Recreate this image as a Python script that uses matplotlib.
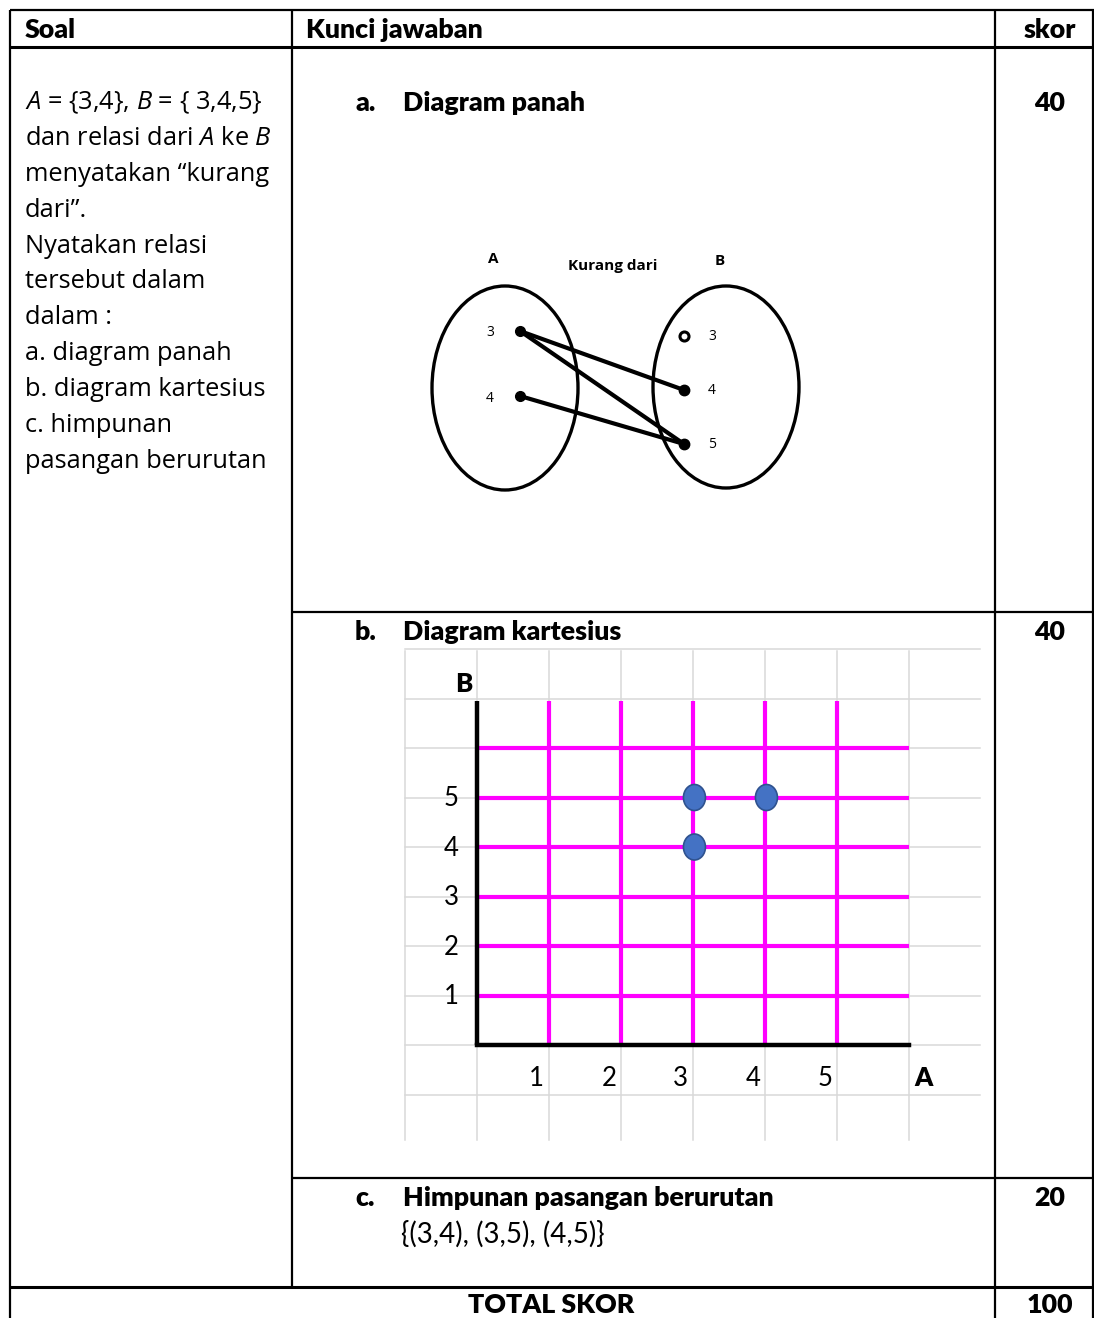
import matplotlib
matplotlib.use("Agg")
import matplotlib.pyplot as plt
from matplotlib.patches import Ellipse

# ---------------- data ----------------
set_A = [3, 4]
set_B = [3, 4, 5]
relation_pairs = [(3, 4), (3, 5), (4, 5)]          # "kurang dari"
x_ticks = [1, 2, 3, 4, 5]
y_ticks = [1, 2, 3, 4, 5]
scores = ["40", "40", "20"]
total_score = "100"
question_lines = ["$A$ = {3,4}, $B$ = { 3,4,5}",
                  "dan relasi dari $A$ ke $B$",
                  "menyatakan \u201ckurang",
                  "dari\u201d.",
                  "Nyatakan relasi",
                  "tersebut dalam",
                  "dalam :",
                  "a. diagram panah",
                  "b. diagram kartesius",
                  "c. himpunan",
                  "pasangan berurutan"]
answer_set_text = "{(3,4), (3,5), (4,5)}"

plt.rcParams['mathtext.fontset'] = 'custom'
plt.rcParams['mathtext.it'] = 'Open Sans:italic'
plt.rcParams['mathtext.rm'] = 'Open Sans'

W, H = 1094, 1318
fig = plt.figure(figsize=(W / 100, H / 100), dpi=100)
fig.patch.set_facecolor("white")

def px_axes(x0, y0, x1, y1, **kw):
    return fig.add_axes([x0 / W, 1 - y1 / H, (x1 - x0) / W, (y1 - y0) / H], **kw)

# ---------------- table ----------------
ax = px_axes(0, 0, W, H)
ax.set_xlim(0, W)
ax.set_ylim(H, 0)
ax.axis("off")

lc = "black"
lw = 1.6
def hl(y, x0, x1, w=lw):
    ax.plot([x0, x1], [y, y], color=lc, lw=w, solid_capstyle="butt")
def vl(x, y0, y1, w=lw):
    ax.plot([x, x], [y0, y1], color=lc, lw=w, solid_capstyle="butt")

hl(10, 10, 1094)
hl(47, 10, 1094, 2.2)
hl(612, 292, 1094)
hl(1178, 292, 1094)
hl(1287, 10, 1094, 2.2)
vl(10, 10, 1318)
vl(292, 10, 1287)
vl(995, 10, 1318)
vl(1093, 10, 1318)

HF = "Lato"
hb = dict(family=HF, fontweight="heavy", fontsize=19.3, va="center")
ax.text(25, 30, "Soal", ha="left", **hb)
ax.text(306, 30, "Kunci jawaban", ha="left", **hb)
ax.text(1050, 30, "skor", ha="center", **hb)

# left column
for i, line in enumerate(question_lines):
    ax.text(25, 103 + i * 35.8, line, family="Open Sans", fontsize=18.3,
            ha="left", va="center")

# answers
ax.text(355, 103, "a.", ha="left", **hb)
ax.text(403, 103, "Diagram panah", ha="left", **hb)
ax.text(355, 632, "b.", ha="left", **hb)
ax.text(403, 632, "Diagram kartesius", ha="left", **hb)
ax.text(355, 1198, "c.", ha="left", **hb)
ax.text(403, 1198, "Himpunan pasangan berurutan", ha="left", **hb)
ax.text(401, 1234, answer_set_text, family=HF, fontsize=20,
        ha="left", va="center")

for yy, s in zip([103, 632, 1198], scores):
    ax.text(1050, yy, s, ha="center", **hb)
ax.text(551, 1305, "TOTAL SKOR", ha="center", **hb)
ax.text(1050, 1305, total_score, ha="center", **hb)

# ---------------- arrow diagram ----------------
ad = px_axes(420, 240, 820, 500)
ad.set_xlim(420, 820)
ad.set_ylim(500, 240)
ad.axis("off")
ad.add_patch(Ellipse((505, 388), 146, 204, fill=False, lw=2.4, ec="black"))
ad.add_patch(Ellipse((726, 387), 146, 202, fill=False, lw=2.4, ec="black"))
ad.text(493, 259, "A", family="Open Sans", fontweight="bold", fontsize=11,
        ha="center", va="center")
ad.text(613, 266, "Kurang dari", family="Open Sans", fontweight="bold",
        fontsize=11, ha="center", va="center")
ad.text(720, 261, "B", family="Open Sans", fontweight="bold", fontsize=11,
        ha="center", va="center")

posA = {a: (520, 331 + 65 * i) for i, a in enumerate(set_A)}
posB = {b: (684, 336 + 54 * i) for i, b in enumerate(set_B)}
related_B = {b for _, b in relation_pairs}
for a, (x, y) in posA.items():
    ad.text(x - 30, y + 2, str(a), family="Open Sans", fontsize=10,
            ha="center", va="center")
for b, (x, y) in posB.items():
    ad.text(x + 28, y + 1, str(b), family="Open Sans", fontsize=10,
            ha="center", va="center")
for a, b in relation_pairs:
    (x0, y0), (x1, y1) = posA[a], posB[b]
    ad.plot([x0, x1], [y0, y1], color="black", lw=3, solid_capstyle="round")
for a, (x, y) in posA.items():
    ad.plot(x, y, "o", ms=7, color="black")
for b, (x, y) in posB.items():
    if b in related_B:
        ad.plot(x, y, "o", ms=7.5, color="black")
    else:
        ad.plot(x, y, "o", ms=6.5, mfc="white", mec="black", mew=2.2)

# ---------------- cartesian diagram ----------------
ox, oy, sx, sy = 477, 1045, 72, 49.5
cx0, cx1, cy0, cy1 = 400, 985, 645, 1145
ca = px_axes(cx0, cy0, cx1, cy1)
ca.set_xlim((cx0 - ox) / sx, (cx1 - ox) / sx)
ca.set_ylim((oy - cy1) / sy, (oy - cy0) / sy)
ca.axis("off")

gx = [-1, 0] + x_ticks + [6]
gy = [-1, 0] + y_ticks + [6, 7, 8]
gcol = "#d9d9d9"
xr = (980 - ox) / sx
ytop = (oy - 651) / sy
ybot = (oy - 1140) / sy
for v in gx:
    ca.plot([v, v], [ybot, ytop], color=gcol, lw=1.1, zorder=1)
for v in gy:
    ca.plot([-1, xr], [v, v], color=gcol, lw=1.1, zorder=1)

mag = "#ff00ff"
for v in y_ticks + [6]:
    ca.plot([0, 6], [v, v], color=mag, lw=3, zorder=2, solid_capstyle="butt")
for v in x_ticks:
    ca.plot([v, v], [0, 6.95], color=mag, lw=3, zorder=2, solid_capstyle="butt")
ca.plot([0, 0], [0, 6.95], color="black", lw=3.2, zorder=3, solid_capstyle="butt")
ca.plot([0, 6], [0, 0], color="black", lw=3.2, zorder=3, solid_capstyle="projecting")

for v in x_ticks:
    ca.text(v - 0.17, -0.67, str(v), family=HF, fontsize=18.5,
            ha="center", va="center")
for v in y_ticks:
    ca.text(-0.36, v - 0.03, str(v), family=HF, fontsize=18.5,
            ha="center", va="center")
ca.text(6.2, -0.67, "A", family=HF, fontweight="heavy", fontsize=18.5,
        ha="center", va="center")
ca.text(-0.18, 7.3, "B", family=HF, fontweight="heavy", fontsize=18.5,
        ha="center", va="center")

for a, b in relation_pairs:
    ca.add_patch(Ellipse((a + 0.02, b), 22 / sx, 26 / sy, fc="#4472c4",
                         ec="#2f528f", lw=1.2, zorder=4))

fig.savefig("out.png", dpi=100)
